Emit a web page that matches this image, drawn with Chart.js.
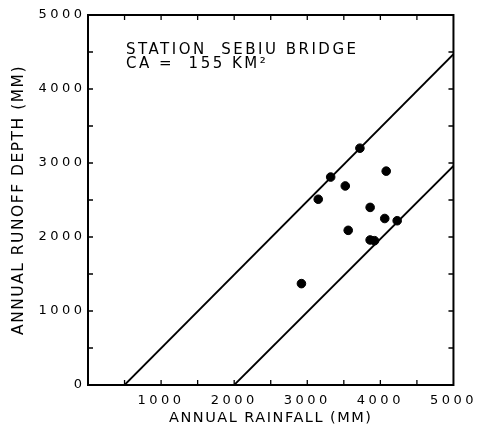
<!DOCTYPE html>
<html>
<head>
	<meta charset="utf-8">
	<title>Sebiu Bridge</title>
	<style>
		body { margin: 0; background: #fff; }
		#wrap { width: 481px; height: 433px; }
	</style>
</head>
<body>
	<div id="wrap"><canvas id="myChart"></canvas></div>
	<script type="text/javascript" src="https://cdn.jsdelivr.net/npm/chart.js@4.4.0/dist/chart.umd.min.js"></script>
	<script type="text/javascript">
		// annual values (mm)
		const rainfall = [2920, 3150, 3320, 3520, 3560, 3720, 3860, 3860, 3920, 4060, 4080, 4230];
		const runoff = [1370, 2510, 2810, 2690, 2090, 3200, 2400, 1960, 1950, 2250, 2890, 2220];

		// envelope lines
		const upperX = [500, 5000];
		const upperY = [0, 4470];
		const lowerX = [2000, 5000];
		const lowerY = [0, 2960];

		// small inside tick marks every 500 mm
		const minorTicks = [500, 1000, 1500, 2000, 2500, 3000, 3500, 4000, 4500];

		const stationText = ["STATION  SEBIU BRIDGE", "CA =  155 KM²"];
		const xTitle = "ANNUAL RAINFALL (MM)";
		const yTitle = "ANNUAL RUNOFF DEPTH (MM)";

		const FONT = "'DejaVu Sans', sans-serif";

		function toPoints(xs, ys) {
			return xs.map((x, i) => ({x: x, y: ys[i]}));
		}

		// the scan has widely spaced lettering; titles a bit, tick numbers more
		let spacing = {
			id: "spacing",
			beforeLayout(chart) { chart.ctx.letterSpacing = "1.5px"; },
			beforeDraw(chart) { chart.ctx.letterSpacing = "1.5px"; },
			afterDatasetsDraw(chart) { chart.ctx.letterSpacing = "3.5px"; },
		};

		let frame = {
			id: "frame",
			afterDraw(chart) {
				let ctx = chart.ctx;
				let a = chart.chartArea;
				let xs = chart.scales.x, ys = chart.scales.y;
				ctx.save();
				ctx.strokeStyle = "#000";
				ctx.lineWidth = 2;
				ctx.strokeRect(a.left, a.top, a.right - a.left, a.bottom - a.top);
				ctx.lineWidth = 1.3;
				ctx.beginPath();
				minorTicks.forEach(v => {
					let px = xs.getPixelForValue(v);
					ctx.moveTo(px, a.bottom); ctx.lineTo(px, a.bottom - 5);
					ctx.moveTo(px, a.top); ctx.lineTo(px, a.top + 5);
					let py = ys.getPixelForValue(v);
					ctx.moveTo(a.left, py); ctx.lineTo(a.left + 5, py);
					ctx.moveTo(a.right, py); ctx.lineTo(a.right - 5, py);
				});
				ctx.stroke();

				ctx.fillStyle = "#000";
				ctx.letterSpacing = "2.5px";
				ctx.font = "15px " + FONT;
				ctx.textBaseline = "alphabetic";
				ctx.textAlign = "left";
				ctx.fillText(stationText[0], 126, 54);
				ctx.fillText(stationText[1], 126, 68);
				ctx.restore();
			}
		};

		let ctx = document.getElementById("myChart").getContext("2d");
		let config = {
			type: "scatter",
			data: {
				datasets: [
					{
						label: "upper",
						type: "line",
						data: toPoints(upperX, upperY),
						borderColor: "#000",
						borderWidth: 1.8,
						pointRadius: 0,
						fill: false,
						order: 2,
					},
					{
						label: "lower",
						type: "line",
						data: toPoints(lowerX, lowerY),
						borderColor: "#000",
						borderWidth: 1.8,
						pointRadius: 0,
						fill: false,
						order: 2,
					},
					{
						label: "stations",
						data: toPoints(rainfall, runoff),
						backgroundColor: "#000",
						borderColor: "#000",
						pointRadius: 4.3,
						order: 1,
					},
				]
			},
			options: {
				responsive: true,
				maintainAspectRatio: false,
				animation: false,
				devicePixelRatio: 1,
				layout: { padding: { top: 15, right: 26, left: 0, bottom: 0 } },
				plugins: {
					legend: { display: false },
					tooltip: { enabled: false },
				},
				scales: {
					x: {
						type: "linear",
						min: 0,
						max: 5000,
						afterFit(s) { s.height = 48; },
						grid: { display: false, drawTicks: false },
						border: { display: false },
						ticks: {
							z: 1,
							stepSize: 1000,
							maxRotation: 0,
							padding: 8,
							color: "#000",
							font: { family: FONT, size: 13 },
							callback: v => v === 0 ? "" : String(v),
						},
						title: {
							display: true,
							text: xTitle,
							color: "#000",
							font: { family: FONT, size: 14.5 },
							padding: { top: 0, bottom: 6 },
						},
					},
					y: {
						type: "linear",
						min: 0,
						max: 5000,
						afterFit(s) { s.width = 88; },
						grid: { display: false, drawTicks: false },
						border: { display: false },
						ticks: {
							z: 1,
							stepSize: 1000,
							padding: 2.5,
							color: "#000",
							font: { family: FONT, size: 13 },
							callback: v => String(v),
						},
						title: {
							display: true,
							text: yTitle,
							color: "#000",
							font: { family: FONT, size: 15.5 },
							padding: { top: 10, bottom: 0 },
						},
					},
				},
			},
			plugins: [spacing, frame],
		};

		let myChart = new Chart(ctx, config);
	</script>
</body>
</html>
